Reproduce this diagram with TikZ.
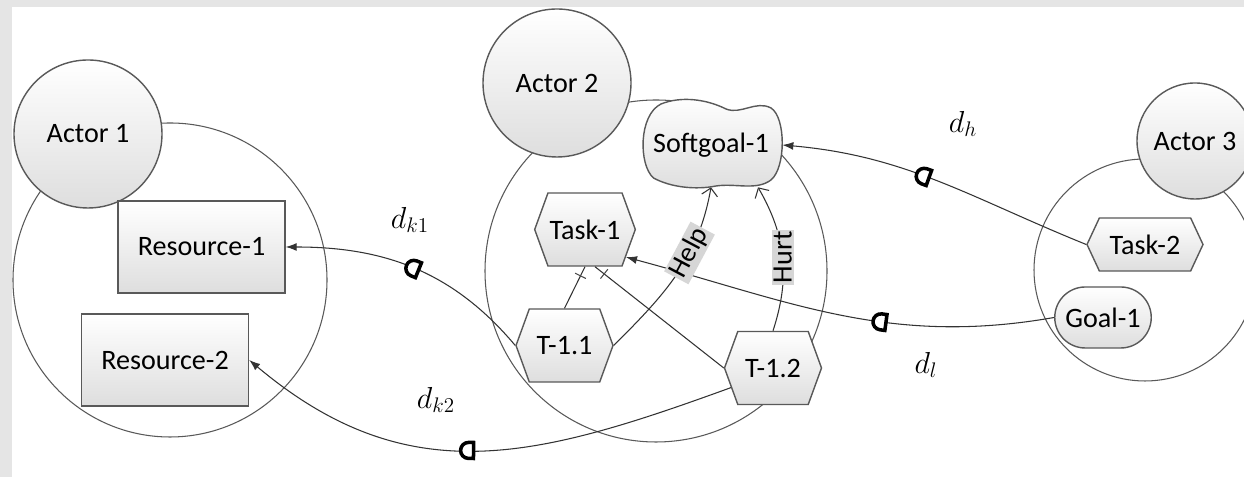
\documentclass[tikz,border=0pt]{standalone}
\usepackage{fontspec}
\setmainfont{Carlito}
\usetikzlibrary{arrows,arrows.meta,shapes.symbols,shapes.misc,decorations.markings,positioning}

\tikzset{
  dmark/.style={postaction={decorate},decoration={markings,mark=at position #1 with
    {\draw[-,black,line width=2pt,fill=white] (-0.12cm,-0.16cm) -- (-0.12cm,0.16cm) -- (-0.02cm,0.16cm)
       arc[start angle=90,end angle=-90,radius=0.16cm] -- cycle;}}},
  tick/.style={postaction={decorate},decoration={markings,mark=at position #1 with
    {\draw[-,black!70,line width=0.6pt] (0cm,-0.12cm) -- (0cm,0.12cm);}}}
}

\begin{document}
\begin{tikzpicture}[align=center,font=\fontsize{16}{19}\selectfont]
\tikzstyle{shade}=[draw=black!65,line width=0.8pt,top color=white,bottom color=black!13]
\tikzstyle{actor}=[shade,circle,minimum size=2.96cm,inner sep=0pt]
\tikzstyle{boundary}=[circle,draw=black!65,line width=0.6pt,inner sep=0pt]
\tikzstyle{resource}=[shade,rectangle,minimum width=3.34cm,minimum height=1.84cm]
\tikzstyle{task}=[shade,signal,signal to=west and east,signal pointer angle=140,minimum width=1.94cm,minimum height=1.46cm,inner sep=1pt]
\tikzstyle{goal}=[shade,rounded rectangle,minimum width=2cm,minimum height=1.22cm,inner sep=1pt]
\tikzstyle{depend}=[-{Latex[length=2.2mm,width=1.6mm]},draw=black!80,line width=0.6pt]
\tikzstyle{contrib}=[-{Straight Barb[length=1.5mm,width=3.2mm]},draw=black!80,line width=0.6pt]
\tikzstyle{decomp}=[-,draw=black!80,line width=0.6pt]
\tikzstyle{tag}=[fill=black!16,inner sep=1pt]
\tikzstyle{dlabel}=[font=\fontsize{18}{21}\selectfont]

\useasboundingbox (0,0) rectangle (24.88,9.54);
\fill[black!10] (0,0) rectangle (24.88,9.54);
\fill[white] (0.24,0) rectangle (24.88,9.40);

\node[boundary,minimum size=6.28cm] (b1) at (3.40,3.94) {};
\node[boundary,minimum size=6.84cm] (b2) at (13.12,4.12) {};
\node[boundary,minimum size=4.44cm] (b3) at (22.90,4.14) {};

\node[actor] (a1) at (1.76,6.86) {Actor 1};
\node[actor] (a2) at (11.14,7.88) {Actor 2};
\node[actor,minimum size=2.32cm] (a3) at (23.90,6.72) {Actor 3};

\node[resource] (r1) at (4.03,4.60) {Resource-1};
\node[resource] (r2) at (3.30,2.34) {Resource-2};

\node[task] (task1) at (11.70,4.95) {Task-1};
\node[task] (t11) at (11.29,2.63) {T-1.1};
\node[task] (t12) at (15.46,2.18) {T-1.2};
\node[task,minimum width=2.32cm,minimum height=1.06cm,signal pointer angle=130] (task2) at (22.90,4.65) {Task-2};
\node[goal] (goal1) at (22.06,3.19) {Goal-1};

\coordinate (sgc) at (14.22,6.64);
\draw[shade,shift={(sgc)}] (-1.0,0.82) .. controls (-0.6,0.98) and (-0.1,0.92) .. (0.3,0.72)
  .. controls (0.6,0.6) and (0.9,0.9) .. (1.2,0.74)
  .. controls (1.5,0.55) and (1.5,-0.45) .. (1.2,-0.70)
  .. controls (0.9,-0.92) and (0.5,-0.76) .. (0.1,-0.82)
  .. controls (-0.3,-0.9) and (-0.8,-0.85) .. (-1.15,-0.66)
  .. controls (-1.45,-0.4) and (-1.45,0.6) .. (-1.0,0.82) -- cycle;
\node[minimum width=2.84cm,minimum height=1.68cm] (sg) at (sgc) {Softgoal-1};

\path
  (t11.west) edge [depend,dmark=0.5,out=130,in=0] (r1.east)
  (t12.205) edge [depend,dmark=0.53,out=200,in=-40,looseness=1.1] (r2.east)
  (task2.west) edge [depend,dmark=0.55,out=158,in=-5] (sg.east)
  (goal1.west) edge [depend,dmark=0.4,out=190,in=-15] (task1.-34);

\path
  (t11.east) edge [contrib,out=45,in=-100] node[tag,pos=0.64,rotate=62] {Help} (sg.south)
  (t12.north) edge [contrib,out=72,in=-60] node[tag,pos=0.5,rotate=90] {Hurt} (sg.-42)
  (t11.north) edge [decomp,tick=0.78] (task1.south)
  (t12.west) edge [decomp,tick=0.93] (task1.-75);

\node[dlabel] (lk1) at (8.20,5.14) {$d_{k1}$};
\node[dlabel] (lk2) at (8.72,1.54) {$d_{k2}$};
\node[dlabel] (lh) at (19.26,7.06) {$d_h$};
\node[dlabel] (ll) at (18.52,2.24) {$d_l$};
\end{tikzpicture}
\end{document}
